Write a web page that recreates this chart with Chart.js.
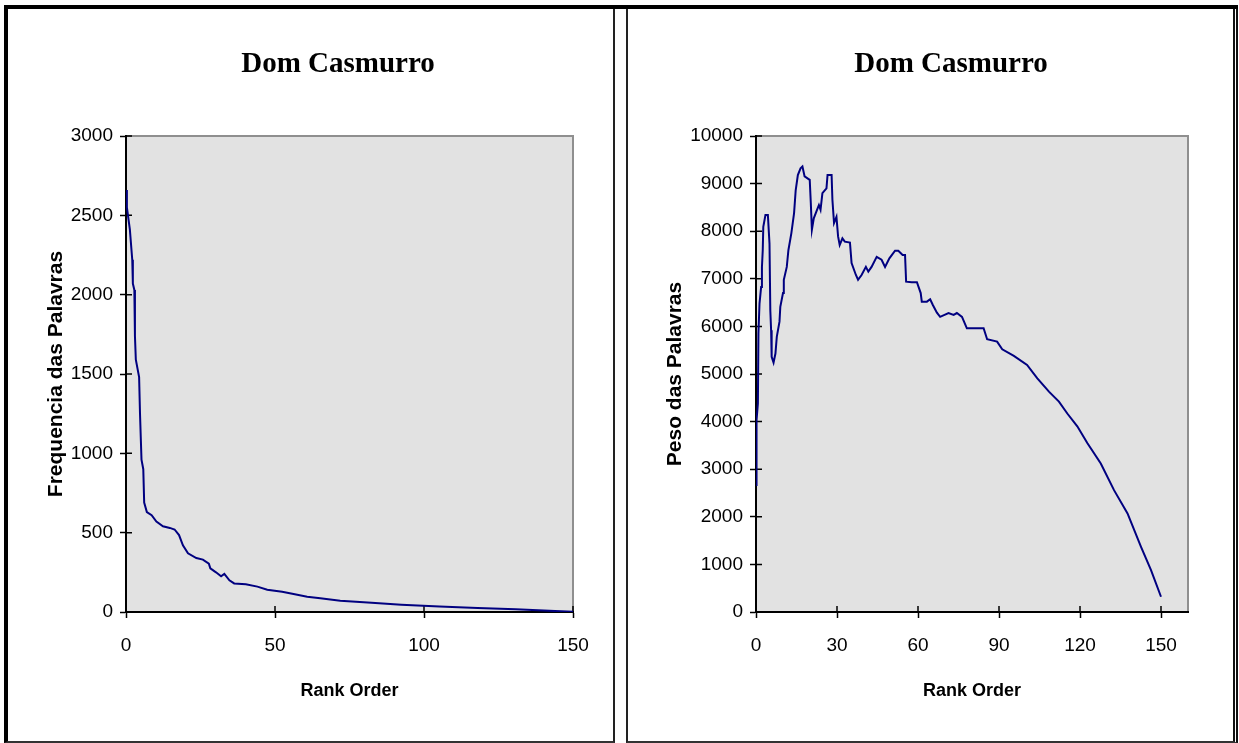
<!DOCTYPE html>
<html>
<head>
<meta charset="utf-8">
<script src="https://cdn.jsdelivr.net/npm/chart.js@4.4.1/dist/chart.umd.min.js"></script>
<style>
  body { margin: 0; background: #fff; width: 1239px; height: 743px; position: relative; overflow: hidden; }
  .panel { position: absolute; box-sizing: border-box; }
  #panelLeft { left: 4px; top: 5px; width: 611px; height: 738px; border-left: 4px solid #000; border-top: 4px solid #000; border-right: 2px solid #222; border-bottom: 2px solid #333; }
  #panelRight { left: 626px; top: 5px; width: 612px; height: 738px; border-left: 2px solid #222; border-top: 4px solid #000; border-right: 5px double #111; border-bottom: 2px solid #333; }
  #topBar { position: absolute; left: 4px; top: 5px; width: 1234px; height: 4px; background: #000; }
  canvas { position: absolute; top: 8px; }
  #leftChart { left: 8px; }
  #rightChart { left: 628px; }
  .title { position: absolute; top: 44px; width: 300px; text-align: center; font: bold 29px "Liberation Serif", "Times New Roman", serif; color: #000; line-height: 36px; }
  #titleLeft { left: 188px; }
  #titleRight { left: 801px; }
</style>
</head>
<body>
<div class="panel" id="panelLeft"></div>
<div class="panel" id="panelRight"></div>
<div id="topBar"></div>
<canvas id="leftChart" width="605" height="733"></canvas>
<canvas id="rightChart" width="605" height="733"></canvas>
<div class="title" id="titleLeft">Dom Casmurro</div>
<div class="title" id="titleRight">Dom Casmurro</div>
<script>
// values
var freqRank = [0, 0.3, 1.3, 2.1, 2.3, 2.8, 3.0, 3.3, 4.4, 4.7, 5.2, 5.8, 6.1, 7, 8.6, 10.2, 12.4, 14.7, 16.3, 17.8,
    19.1, 20.8, 23.6, 25.8, 27.8, 28.3, 30.2, 31.9, 33, 34.7, 36.3, 40.2, 44.1, 47.4, 52.4, 55.8, 60.8, 65.2, 71.9, 82.4,
    92.4, 105.2, 118, 130.8, 144, 150];
var freqValues = [2660, 2550, 2410, 2220, 2070, 2030, 1740, 1590, 1480, 1250, 960, 900, 690, 630, 610, 570, 540, 530, 520, 485,
    420, 370, 340, 330, 305, 275, 250, 225, 240, 200, 180, 175, 160, 140, 128, 115, 96, 86, 71, 59,
    46, 34, 25, 17, 6, 2];

var pesoRank = [0, 0.2, 0.7, 0.9, 1.3, 1.9, 2.2, 2.5, 2.7, 3.5, 4.4, 5.0, 5.3, 5.6, 5.8, 6.5, 7.2, 7.7, 8.7, 9.0,
    10.0, 10.3, 11.4, 12.0, 13.1, 14.1, 14.7, 15.5, 16.5, 17.2, 18.0, 19.9, 20.3, 20.7, 21.4, 22.6, 23.3, 23.9, 24.6, 26.1,
    26.5, 28.0, 28.3, 28.9, 29.8, 30.4, 31.0, 32.0, 32.9, 34.8, 35.4, 37.0, 37.8, 39.1, 40.7, 41.6, 42.8, 44.7, 46.5, 47.8,
    49.4, 51.5, 52.7, 54.3, 55.2, 55.6, 57.7, 59.6, 61.0, 61.4, 63.3, 64.5, 65.5, 67.0, 68.2, 71.3, 73.2, 74.4, 76.3, 78.1,
    84.3, 85.6, 89.3, 91.2, 95.5, 100.4, 104.2, 108.5, 112.2, 115.3, 119.0, 122.7, 127.7, 132.6, 137.6, 142.6, 146.3, 150];
var pesoValues = [2670, 4030, 4380, 5850, 6480, 6830, 7250, 7600, 8090, 8340, 8340, 7740, 6340, 5920, 5360, 5240, 5430, 5780, 6100, 6410,
    6700, 6980, 7250, 7600, 7960, 8380, 8860, 9180, 9320, 9360, 9150, 9080, 8590, 8030, 8270, 8450, 8550, 8450, 8800, 8900,
    9180, 9180, 8660, 8170, 8300, 7890, 7710, 7850, 7780, 7760, 7330, 7080, 6980, 7080, 7250, 7150, 7250, 7460, 7400, 7250,
    7430, 7590, 7590, 7500, 7500, 6940, 6930, 6930, 6700, 6520, 6520, 6570, 6450, 6290, 6200, 6280, 6240, 6280, 6200, 5960,
    5960, 5730, 5680, 5520, 5380, 5190, 4910, 4630, 4420, 4170, 3900, 3550, 3120, 2560, 2070, 1370, 880, 320];

var freqXTicks = [0, 50, 100, 150];
var pesoXTicks = [0, 30, 60, 90, 120, 150];

Chart.defaults.font.family = "'Liberation Sans', Arial, sans-serif";
Chart.defaults.color = '#000';

// gray plot area with the gray frame on top and right
var plotBg = {
    id: 'plotBg',
    beforeDraw: function(chart) {
        var a = chart.chartArea, ctx = chart.ctx;
        ctx.save();
        ctx.fillStyle = '#e2e2e2';
        ctx.fillRect(a.left, a.top, a.right - a.left, a.bottom - a.top);
        ctx.strokeStyle = '#8f8f8f';
        ctx.lineWidth = 2;
        ctx.beginPath();
        ctx.moveTo(a.left, a.top);
        ctx.lineTo(a.right, a.top);
        ctx.lineTo(a.right, a.bottom);
        ctx.stroke();
        ctx.restore();
    }
};

// tick marks cross the axis: draw the inner half
var crossTicks = {
    id: 'crossTicks',
    beforeDatasetsDraw: function(chart) {
        var a = chart.chartArea, ctx = chart.ctx;
        var xs = chart.scales.x, ys = chart.scales.y;
        ctx.save();
        ctx.strokeStyle = '#000';
        ctx.lineWidth = 1.5;
        ctx.beginPath();
        xs.ticks.forEach(function(t) {
            var p = xs.getPixelForValue(t.value);
            ctx.moveTo(p, a.bottom);
            ctx.lineTo(p, a.bottom - 6);
        });
        ys.ticks.forEach(function(t) {
            var p = ys.getPixelForValue(t.value);
            ctx.moveTo(a.left, p);
            ctx.lineTo(a.left + 6, p);
        });
        ctx.stroke();
        ctx.restore();
    }
};

function plain(v) { return String(v); }

function makeChart(id, xs, ys, cfg) {
    var points = xs.map(function(x, i) { return { x: x, y: ys[i] }; });
    return new Chart(document.getElementById(id), {
        type: 'scatter',
        data: {
            datasets: [{
                data: points,
                showLine: true,
                borderColor: '#000080',
                borderWidth: 2,
                pointRadius: 0,
                tension: 0
            }]
        },
        options: {
            responsive: false,
            animation: false,
            layout: { padding: { left: 0, right: cfg.padRight, top: 128, bottom: 0 } },
            plugins: { legend: { display: false }, tooltip: { enabled: false }, title: { display: false } },
            scales: {
                x: {
                    type: 'linear',
                    min: 0,
                    max: cfg.xMax,
                    afterBuildTicks: function(scale) {
                        scale.ticks = cfg.xTicks.map(function(v) { return { value: v }; });
                    },
                    afterFit: function(scale) { scale.height = 129; },
                    border: { color: '#000', width: 2 },
                    grid: { drawOnChartArea: false, drawTicks: true, tickLength: 6, tickColor: '#000', tickWidth: 1.5 },
                    ticks: { font: { size: 19 }, padding: 16, maxRotation: 0, callback: plain },
                    title: { display: true, text: 'Rank Order', font: { size: 18, weight: 'bold' }, padding: { top: 0, bottom: 39 } }
                },
                y: {
                    min: 0,
                    max: cfg.yMax,
                    ticks: { stepSize: cfg.yStep, font: { size: 19 }, padding: 7, callback: plain },
                    afterFit: function(scale) { scale.width = cfg.yWidth; },
                    border: { color: '#000', width: 2 },
                    grid: { drawOnChartArea: false, drawTicks: true, tickLength: 6, tickColor: '#000', tickWidth: 1.5 },
                    title: { display: true, text: cfg.yTitle, font: { size: 21, weight: 'bold' }, padding: { top: cfg.yTitlePad, bottom: 0 } }
                }
            }
        },
        plugins: [plotBg, crossTicks]
    });
}

makeChart('leftChart', freqRank, freqValues, {
    xMax: 150, xTicks: freqXTicks, yMax: 3000, yStep: 500,
    yTitle: 'Frequencia das Palavras', yWidth: 118, yTitlePad: 36, padRight: 40
});

makeChart('rightChart', pesoRank, pesoValues, {
    xMax: 160, xTicks: pesoXTicks, yMax: 10000, yStep: 1000,
    yTitle: 'Peso das Palavras', yWidth: 128, yTitlePad: 35, padRight: 45
});
</script>
</body>
</html>
